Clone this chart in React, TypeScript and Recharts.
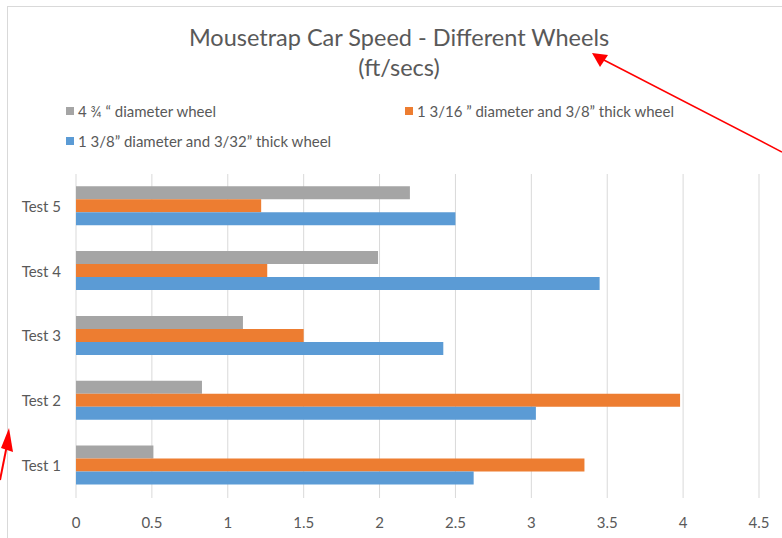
import { BarChart, Bar, XAxis, YAxis, CartesianGrid } from 'recharts'

const categories = ['Test 1', 'Test 2', 'Test 3', 'Test 4', 'Test 5']
const bigWheel = [0.51, 0.83, 1.1, 1.99, 2.2]
const thickWheel = [3.35, 3.98, 1.5, 1.26, 1.22]
const thinWheel = [2.62, 3.03, 2.42, 3.45, 2.5]
const xTicks = [0, 0.5, 1, 1.5, 2, 2.5, 3, 3.5, 4, 4.5]

const series = [
  { key: 'big', name: '4 ¾ “ diameter wheel', color: '#A5A5A5' },
  { key: 'thick', name: '1 3/16 ” diameter and 3/8” thick wheel', color: '#ED7D31' },
  { key: 'thin', name: '1 3/8” diameter and 3/32” thick wheel', color: '#5B9BD5' },
]

const data = categories.map((name, i) => ({
  name,
  big: bigWheel[i],
  thick: thickWheel[i],
  thin: thinWheel[i],
}))

const FONT = 'Lato, "Open Sans", sans-serif'
const TEXT = '#595959'

// legend laid out like the Excel one: two columns, wraps to a second row
const legendPos = [
  { left: 66, top: 102 },
  { left: 405, top: 102 },
  { left: 66, top: 132 },
]

function WheelLegend() {
  return (
    <>
      {series.map((s, i) => (
        <div
          key={s.key}
          style={{
            position: 'absolute',
            left: legendPos[i].left,
            top: legendPos[i].top,
            display: 'flex',
            alignItems: 'center',
            fontFamily: FONT,
            fontSize: 15,
            lineHeight: '18px',
            color: TEXT,
            whiteSpace: 'nowrap',
          }}
        >
          <span style={{ width: 8, height: 8, background: s.color, marginRight: 4, display: 'inline-block' }} />
          {s.name}
        </div>
      ))}
    </>
  )
}

export default function App() {
  return (
    <div style={{ position: 'absolute', left: 0, top: 0, width: 782, height: 538, background: '#fff', overflow: 'hidden' }}>
      {/* chart frame */}
      <div style={{ position: 'absolute', left: 7, top: 6, width: 800, height: 560, border: '1.5px solid #d9d9d9' }} />
      <div
        style={{
          position: 'absolute',
          left: 0,
          top: 22,
          width: 798,
          textAlign: 'center',
          fontFamily: FONT,
          fontSize: 23.5,
          lineHeight: '30px',
          color: TEXT,
        }}
      >
        Mousetrap Car Speed - Different Wheels
        <br />
        (ft/secs)
      </div>
      <WheelLegend />
      <BarChart
        width={782}
        height={538}
        data={data}
        layout="vertical"
        margin={{ top: 174, right: 23, bottom: 0, left: 0 }}
        barCategoryGap="19%"
        barGap={0}
        style={{ position: 'absolute', left: 0, top: 0 }}
      >
        <CartesianGrid horizontal={false} stroke="#d9d9d9" strokeWidth={1} />
        <XAxis
          type="number"
          domain={[0, 4.5]}
          ticks={xTicks}
          axisLine={false}
          tickLine={false}
          tickMargin={13}
          height={40}
          tick={{ fill: TEXT, fontSize: 15, fontFamily: FONT }}
        />
        <YAxis
          type="category"
          dataKey="name"
          reversed
          width={76}
          axisLine={false}
          tickLine={false}
          tickMargin={9}
          tick={{ fill: TEXT, fontSize: 15, fontFamily: FONT }}
        />
        {series.map((s) => (
          <Bar key={s.key} dataKey={s.key} name={s.name} fill={s.color} isAnimationActive={false} />
        ))}
      </BarChart>
      {/* red annotation arrows */}
      <svg width={782} height={538} style={{ position: 'absolute', left: 0, top: 0, pointerEvents: 'none' }}>
        <line x1={782} y1={152} x2={600} y2={58} stroke="#ff0000" strokeWidth={1.5} />
        <polygon points="592,53 608,55 600,67" fill="#ff0000" />
        <line x1={0} y1={480} x2={7} y2={445} stroke="#ff0000" strokeWidth={2} />
        <polygon points="9,428 1,448 13,452" fill="#ff0000" />
      </svg>
    </div>
  )
}
